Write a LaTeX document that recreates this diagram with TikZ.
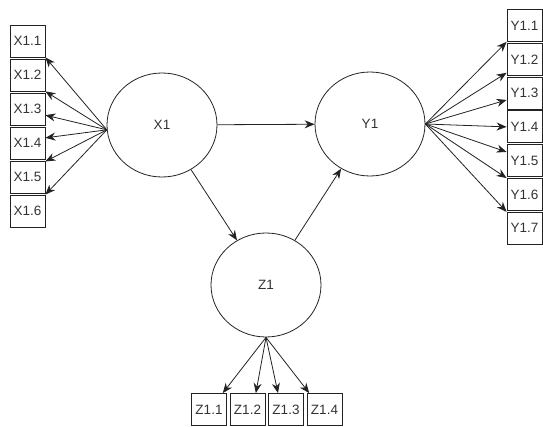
\documentclass[tikz,border=0pt]{standalone}
\usepackage{fontspec}
\setmainfont{Liberation Sans}
\usetikzlibrary{shapes.geometric,arrows.meta}
\definecolor{txtgray}{HTML}{333333}
\definecolor{linegray}{HTML}{222222}
\begin{document}
\begin{tikzpicture}[x=1pt,y=-1pt,line width=0.8pt,draw=linegray,
	every edge/.style={draw=linegray,-{Stealth[length=10pt,width=8pt]}}]
		\useasboundingbox (0,0) rectangle (543,427);
		\begin{scope}[every node/.style={ellipse,draw=linegray,
			minimum width=110pt,minimum height=104pt,
			font=\fontsize{13.5}{15}\selectfont,text=txtgray}]
		\node (X1) at (162,125) {X1};
		\node (Y1) at (370,124) {Y1};
		\node (Z1) at (266,285) {Z1};
		\end{scope}
		
		\begin{scope}[every node/.style={rectangle,draw=linegray,inner sep=0pt,
			minimum width=35pt,minimum height=32pt,
			font=\fontsize{13.5}{15}\selectfont,text=txtgray}]
		\node (X11) at (27.5,41) {X1.1};
		\node (X12) at (27.5,75) {X1.2};
		\node (X13) at (27.5,109) {X1.3};
		\node (X14) at (27.5,143) {X1.4};
		\node (X15) at (27.5,177) {X1.5};
		\node (X16) at (27.5,211) {X1.6};
		
		\node (Y11) at (524.5,25.5) {Y1.1};
		\node (Y12) at (524.5,59.3) {Y1.2};
		\node (Y13) at (524.5,93.1) {Y1.3};
		\node (Y14) at (524.5,126.9) {Y1.4};
		\node (Y15) at (524.5,160.7) {Y1.5};
		\node (Y16) at (524.5,194.5) {Y1.6};
		\node (Y17) at (524.5,228.3) {Y1.7};
		
		\node (Z11) at (209,409.5) {Z1.1};
		\node (Z12) at (247.5,409.5) {Z1.2};
		\node (Z13) at (286,409.5) {Z1.3};
		\node (Z14) at (324.5,409.5) {Z1.4};
		\end{scope}
		
		\path (X1) edge (Y1);
		\path (X1) edge (Z1);
		\path (Z1) edge (Y1);
		
		\path (X1.185) edge (X11.south east);
		\path (X1.185) edge (X12.south east);
		\path (X1.185) edge (X13.-19);
		\path (X1.185) edge (X14.16);
		\path (X1.185) edge (X15.41);
		\path (X1.185) edge (X16.north east);
		
		\path (Y1.east) edge (Y11.south west);
		\path (Y1.east) edge (Y12.-143);
		\path (Y1.east) edge (Y13.201);
		\path (Y1.east) edge (Y14.west);
		\path (Y1.east) edge (Y15.154);
		\path (Y1.east) edge (Y16.north west);
		\path (Y1.east) edge (Y17.north west);
		
		\path (Z1.south) edge (Z11.50);
		\path (Z1.south) edge (Z12.63);
		\path (Z1.south) edge (Z13.116);
		\path (Z1.south) edge (Z14.133);
\end{tikzpicture}
\end{document}
